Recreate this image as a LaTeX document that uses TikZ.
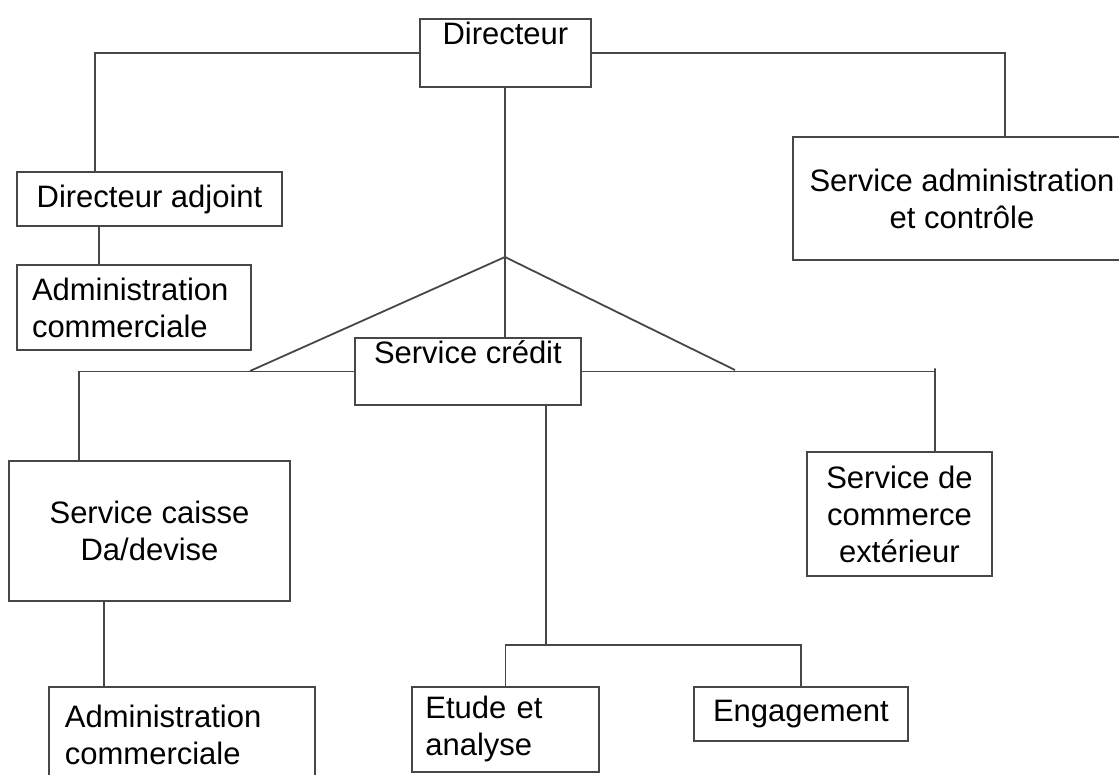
\documentclass[tikz,border=0pt]{standalone}
\usepackage{fontspec}
\setmainfont{Liberation Sans}
\begin{document}
\begin{tikzpicture}[x=1pt,y=-1pt,
  box/.style={draw=black!72, line width=1.8pt, rectangle, inner sep=0pt, font=\fontsize{31}{37}\selectfont},
  wire/.style={draw=black!72, line width=1.8pt}]
\useasboundingbox (0,0) rectangle (1119,774);
% boxes
\node[box, anchor=north west, minimum width=171pt, text height=26pt, text depth=42pt] (dir) at (419,18) {Directeur};
\node[box, minimum width=265pt, minimum height=54pt] (da) at (149.5,199) {Directeur adjoint};
\node[box, minimum width=234pt, minimum height=85pt, align=left, text width=204pt] (ac1) at (134,307.5) {Administration\\commerciale};
\node[box, minimum width=338pt, minimum height=123pt, align=center] (sa) at (962,198.5) {Service administration\\et contrôle};
\node[box, anchor=north west, minimum width=226pt, text height=26pt, text depth=41pt] (sc) at (354,337) {Service crédit};
\node[box, minimum width=281pt, minimum height=140pt, align=center] (cai) at (149.5,531) {Service caisse\\Da/devise};
\node[box, minimum width=185pt, minimum height=124pt, align=center] (ext) at (899.5,514) {Service de\\commerce\\extérieur};
\node[box, anchor=north west, minimum width=266pt, minimum height=96pt, align=left, text width=234pt] (ac2) at (48,686) {Administration\\commerciale};
\node[box, anchor=north west, minimum width=187pt, minimum height=85pt, align=left, text width=160pt] (et) at (411,686) {Etude et\\analyse};
\node[box, anchor=north west, minimum width=214pt, minimum height=54pt] (en) at (693,686) {Engagement};
% attach points
\coordinate (daT) at (95,172);
\coordinate (saT) at (1005,137);
\coordinate (apex) at (505,257);
\coordinate (lft) at (250,371);
\coordinate (rgt) at (735,370);
\coordinate (caiT) at (79,461);
\coordinate (extT) at (935,452);
\coordinate (bar) at (546,645);
% connectors
\draw[wire] (dir.west) -| (daT);
\draw[wire] (dir.east) -| (saT);
\draw[wire] (da.south -| 99,0) -- (ac1.north -| 99,0);
\draw[wire] (dir.south -| apex) -- (sc.north -| apex);
\draw[wire] (lft) -- (apex) -- (rgt);
\draw[wire] (sc.west) -- (sc.west -| caiT) -- (caiT);
\draw[wire] (sc.east) -- (sc.east -| extT) -- ++(0,-3) -- (extT);
\draw[wire] (cai.south -| 104,0) -- (ac2.north -| 104,0);
\draw[wire] (sc.south -| bar) -- (bar);
\draw[wire] (et.north) |- (bar) -| (en.north);
\end{tikzpicture}
\end{document}
